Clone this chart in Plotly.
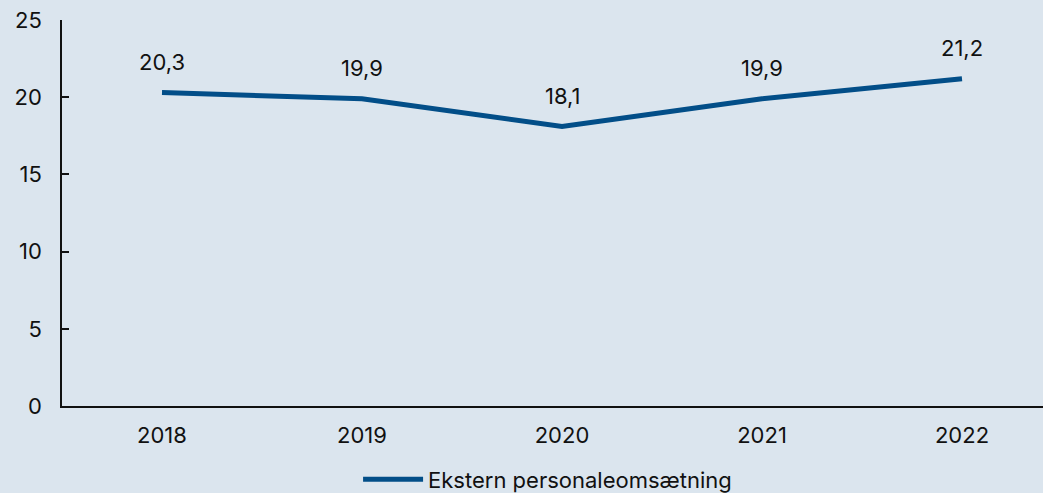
import plotly.graph_objects as go

years = ["2018", "2019", "2020", "2021", "2022"]
turnover = [20.3, 19.9, 18.1, 19.9, 21.2]
series_name = "Ekstern personaleomsætning"

BG = "#dbe5ee"
LINE_BLUE = "#024e88"
FONT = "Inter, 'Noto Sans', sans-serif"

fig = go.Figure()

fig.add_trace(go.Scatter(
    x=years,
    y=turnover,
    mode="lines",
    name=series_name,
    line=dict(color=LINE_BLUE, width=5),
))

# value labels above each point (x as category index so "2018" isn't read as a number)
for i, val in enumerate(turnover):
    fig.add_annotation(
        x=i, y=val,
        text=f"{val:.1f}".replace(".", ","),
        showarrow=False,
        yshift=31,
        font=dict(size=22, color="#111111", family=FONT),
    )

fig.update_layout(
    width=1043,
    height=493,
    paper_bgcolor=BG,
    plot_bgcolor=BG,
    margin=dict(l=62, r=0, t=20, b=87, autoexpand=False),
    font=dict(family=FONT, size=22, color="#111111"),
    showlegend=True,
    legend=dict(
        orientation="h",
        xref="container",
        x=0.525, xanchor="center",
        y=-0.19, yanchor="middle",
        font=dict(size=22),
        bgcolor="rgba(0,0,0,0)",
        itemwidth=60,
    ),
    xaxis=dict(
        type="category",
        range=[-0.5, 4.405],
        showgrid=False,
        showline=True,
        linecolor="#111111",
        linewidth=1.5,
        ticks="",
        ticklabelstandoff=9,
        zeroline=False,
    ),
    yaxis=dict(
        range=[0, 25],
        tickvals=[0, 5, 10, 15, 20, 25],
        showgrid=False,
        showline=True,
        linecolor="#111111",
        linewidth=1.5,
        ticks="inside",
        ticklen=7,
        tickcolor="#111111",
        tickwidth=1.5,
        ticklabelstandoff=14,
        zeroline=False,
    ),
)

# drop the page's default body margin so the figure fills the window
fig.write_html(
    "out.html",
    config={"displayModeBar": False},
    post_script="document.body.style.margin='0';",
)
